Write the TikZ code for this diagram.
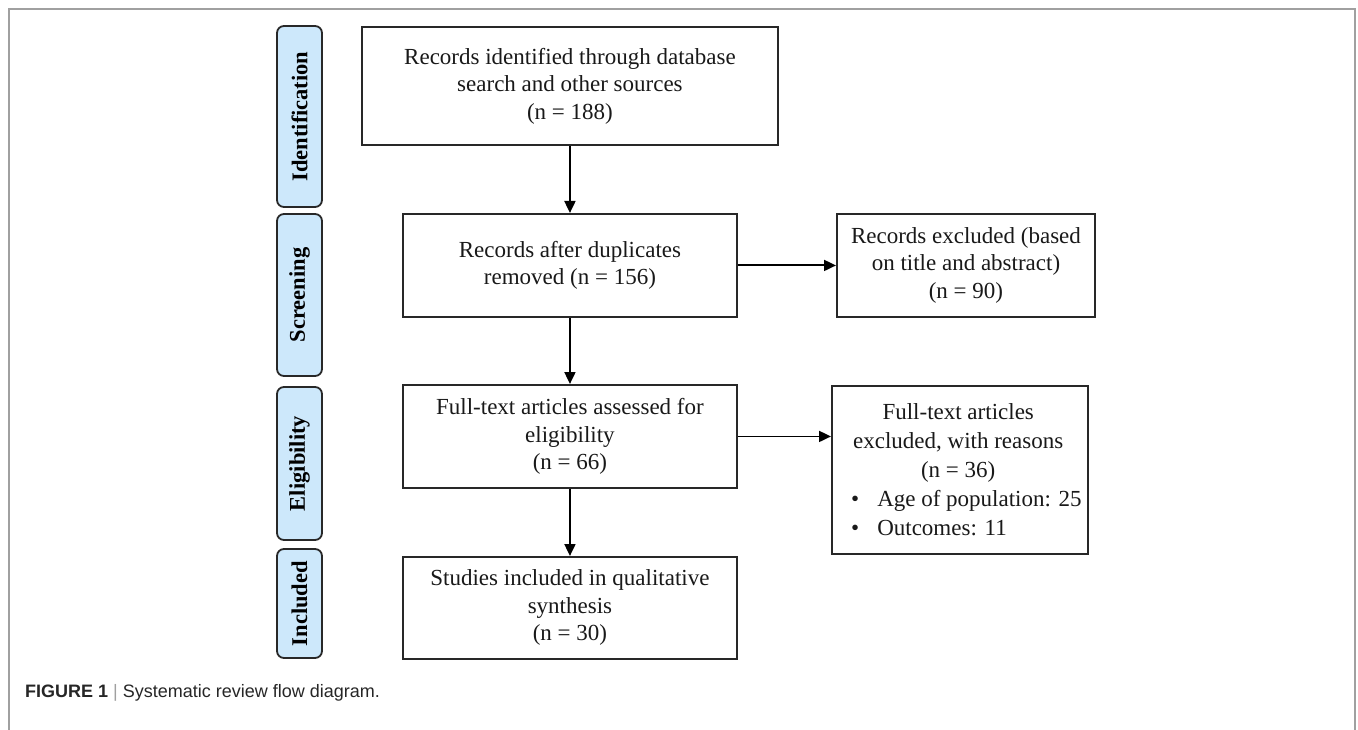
\documentclass[tikz,border=0pt]{standalone}
\usepackage{fontspec}
\setmainfont{Liberation Serif}
\newfontfamily\capfont{Liberation Sans}
\usetikzlibrary{arrows.meta}
\definecolor{tabblue}{RGB}{205,232,251}
\definecolor{linegray}{RGB}{40,40,40}
\definecolor{framegray}{RGB}{160,160,160}
\newcommand{\boxfont}{\fontsize{23}{27.5}\selectfont}
\newcommand{\tabfont}{\fontsize{22.5}{27}\selectfont\bfseries}
\tikzset{
  box/.style={draw=linegray, line width=1.9pt, fill=white, inner sep=0pt,
    align=center, font=\boxfont, text=black!90, anchor=north west},
  tab/.style={draw=linegray, line width=1.8pt, fill=tabblue, rounded corners=7pt,
    rotate=90, font=\tabfont, inner sep=0pt, minimum height=45pt},
  arr/.style={-{Triangle[length=12pt,width=11pt]}, line width=1.9pt, draw=black},
  frame/.style={draw=framegray, line width=2.2pt}
}
\begin{document}
\begin{tikzpicture}[x=1pt,y=-1pt]
\useasboundingbox (0,0) rectangle (1358,730);
% outer frame
\draw[frame] (9,730) -- (9,9) -- (1355,9) -- (1355,730);
% phase tabs
\node[tab, minimum width=181pt] (tid) at (299.5,116.5) {Identification};
\node[tab, minimum width=162pt] (tsc) at (299.5,295) {Screening};
\node[tab, minimum width=153pt] (tel) at (299.5,463.5) {Eligibility};
\node[tab, minimum width=109pt] (tin) at (299.5,603.5) {Included};
% boxes
\node[box, minimum width=416pt, minimum height=118pt] (b1) at (361,26)
  {Records identified through database\\search and other sources\\(n = 188)};
\node[box, minimum width=334pt, minimum height=103pt] (b2) at (402,213)
  {Records after duplicates\\removed (n = 156)};
\node[box, minimum width=258pt, minimum height=103pt] (ex1) at (836,213)
  {Records excluded (based\\on title and abstract)\\(n = 90)};
\node[box, minimum width=334pt, minimum height=103pt] (b3) at (402,384)
  {Full-text articles assessed for\\eligibility\\(n = 66)};
\node[box, minimum width=256pt, minimum height=168pt, align=left,
  font=\fontsize{23}{29}\selectfont] (ex2) at (831,385)
  {\makebox[240pt][c]{Full-text articles}\\
   \makebox[240pt][c]{excluded, with reasons}\\
   \makebox[240pt][c]{(n = 36)}\\
   \hspace*{13pt}\textbullet\hspace{18pt}Age of population: 25\\
   \hspace*{13pt}\textbullet\hspace{18pt}Outcomes: 11};
\node[box, minimum width=334pt, minimum height=102pt] (b5) at (402,556)
  {Studies included in qualitative\\synthesis\\(n = 30)};
% connectors
\draw[arr] (b1.south) -- (b2.north);
\draw[arr] (b2.south) -- (b3.north);
\draw[arr] (b3.south) -- (b5.north);
\draw[arr] (b2.east) -- (ex1.west);
\draw[arr] (b3.east) -- (b3.east -| ex2.west);
% caption
\node[anchor=base west, inner sep=0pt, font=\capfont\fontsize{18}{22}\selectfont, text=black!85] (cap) at (25,697)
  {\textbf{FIGURE 1} {\color{framegray}|} Systematic review flow diagram.};
\end{tikzpicture}
\end{document}
